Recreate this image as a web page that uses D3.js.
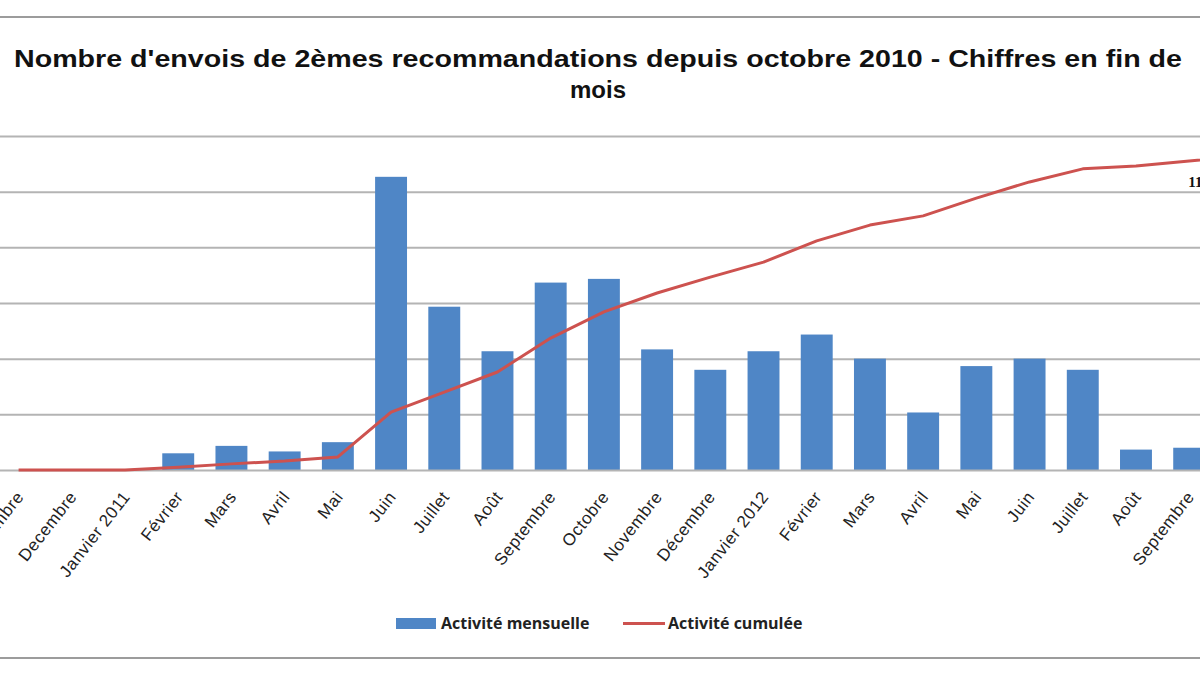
<!DOCTYPE html>
<html>
<head>
<meta charset="utf-8">
<script src="https://cdn.jsdelivr.net/npm/d3@7"></script>
<style>
	body { margin: 0; background: #fff; }
	svg { display: block; }
</style>
</head>
<body>
<svg id="chart" width="1200" height="675"></svg>
<script>
// months shown on the axis (chart is cropped on both sides)
var categories = ["Novembre", "Decembre", "Janvier 2011", "Février", "Mars", "Avril", "Mai", "Juin",
	"Juillet", "Août", "Septembre", "Octobre", "Novembre", "Décembre", "Janvier 2012", "Février",
	"Mars", "Avril", "Mai", "Juin", "Juillet", "Août", "Septembre", "Octobre"];

// Activité mensuelle (left axis)
var monthly = [0, 0, 0, 9, 13, 10, 15, 158, 88, 64, 101, 103, 65, 54, 64, 73, 60, 31, 56, 60, 54, 11, 12, 8];

// Activité cumulée (right axis)
var cumulative = [0, 0, 0, 10, 22, 32, 47, 208, 280, 352, 474, 568, 636, 693, 747, 823, 880, 913, 977, 1035, 1082, 1092, 1110, 1128];

var leftTicks = [0, 30, 60, 90, 120, 150, 180];
var rightMax = 1200;

var title = ["Nombre d'envois de 2èmes recommandations depuis octobre 2010 - Chiffres en fin de", "mois"];
var legendLabels = ["Activité mensuelle", "Activité cumulée"];

var barColor = "#4f86c6",
	lineColor = "#cd524f",
	gridColor = "#b4b4b4";

var svg = d3.select("#chart");

// plot area runs past the picture on both sides
var plot = {left: -8, right: 1269, top: 136, bottom: 470};

var x = d3.scaleBand()
	.domain(d3.range(categories.length))
	.range([plot.left, plot.right])
	.paddingInner(0.4)
	.paddingOuter(0.2);

var y = d3.scaleLinear()
	.domain([0, leftTicks[leftTicks.length - 1]])
	.range([plot.bottom, plot.top]);

var y2 = d3.scaleLinear()
	.domain([0, rightMax])
	.range([plot.bottom, plot.top]);

// frame lines top and bottom
svg.selectAll(".frame")
	.data([17, 658])
	.enter()
	.append("line")
	.attr("class", "frame")
	.attr("x1", 0)
	.attr("x2", 1200)
	.attr("y1", function(d) { return d; })
	.attr("y2", function(d) { return d; })
	.attr("stroke", "#9c9c9c")
	.attr("stroke-width", 2);

// title
svg.selectAll(".title")
	.data(title)
	.enter()
	.append("text")
	.attr("class", "title")
	.attr("x", 598)
	.attr("y", function(d, i) { return 67 + i * 31; })
	.attr("text-anchor", "middle")
	.attr("textLength", function(d, i) { return i == 0 ? 1168 : null; })
	.attr("lengthAdjust", "spacingAndGlyphs")
	.style("font-family", "'Liberation Sans', Arial, sans-serif")
	.style("font-weight", "bold")
	.style("font-size", "24px")
	.attr("fill", "#111")
	.text(function(d) { return d; });

// gridlines from the left axis (its labels sit outside the crop, so none drawn)
var grid = svg.append("g")
	.attr("class", "grid")
	.attr("transform", "translate(" + plot.left + ",0)")
	.call(d3.axisLeft(y)
		.tickValues(leftTicks.slice(1))
		.tickSize(-(plot.right - plot.left))
		.tickFormat(""));
grid.select(".domain").remove();
grid.selectAll("line").attr("stroke", gridColor).attr("stroke-width", 2);

// bars
svg.selectAll(".bar")
	.data(monthly)
	.enter()
	.append("rect")
	.attr("class", "bar")
	.attr("x", function(d, i) { return x(i); })
	.attr("y", function(d) { return y(d); })
	.attr("width", x.bandwidth())
	.attr("height", function(d) { return plot.bottom - y(d); })
	.attr("fill", barColor);

// x axis
var xAxis = svg.append("g")
	.attr("transform", "translate(0," + plot.bottom + ")")
	.call(d3.axisBottom(x)
		.tickSize(0)
		.tickSizeOuter(0)
		.tickFormat(function(i) { return categories[i]; }));
xAxis.select(".domain").attr("stroke", gridColor).attr("stroke-width", 2);
xAxis.selectAll("text")
	.attr("x", 0)
	.attr("y", 0)
	.attr("dy", 0)
	.attr("text-anchor", "end")
	.attr("transform", "translate(6,27) rotate(-52)")
	.style("font-family", "'Liberation Sans', Arial, sans-serif")
	.style("font-size", "17px")
	.style("letter-spacing", "0.6px")
	.attr("fill", "#222");

// cumulative line
var line = d3.line()
	.x(function(d, i) { return x(i) + x.bandwidth() / 2; })
	.y(function(d) { return y2(d); });

svg.append("path")
	.datum(cumulative)
	.attr("d", line)
	.attr("fill", "none")
	.attr("stroke", lineColor)
	.attr("stroke-width", 3)
	.attr("stroke-linejoin", "round");

// data label on the last point
var last = cumulative.length - 1;
svg.append("text")
	.attr("x", x(last) + x.bandwidth() / 2 - 25)
	.attr("y", y2(cumulative[last]) + 31)
	.attr("text-anchor", "end")
	.style("font-family", "'Liberation Serif', serif")
	.style("font-weight", "bold")
	.style("font-size", "15px")
	.attr("fill", "#111")
	.text(d3.format("d")(cumulative[last]));

// legend
var legend = svg.append("g").attr("class", "legend");
legend.append("rect")
	.attr("x", 396)
	.attr("y", 618)
	.attr("width", 40)
	.attr("height", 11)
	.attr("fill", barColor);
legend.append("line")
	.attr("x1", 623)
	.attr("x2", 665)
	.attr("y1", 623.5)
	.attr("y2", 623.5)
	.attr("stroke", lineColor)
	.attr("stroke-width", 3);
legend.selectAll(".legend_text")
	.data(legendLabels)
	.enter()
	.append("text")
	.attr("class", "legend_text")
	.attr("x", function(d, i) { return i == 0 ? 441 : 668; })
	.attr("y", 629)
	.style("font-family", "'Open Sans', Lato, sans-serif")
	.style("font-weight", "bold")
	.style("font-size", "16px")
	.attr("fill", "#222")
	.text(function(d) { return d; });
</script>
</body>
</html>
